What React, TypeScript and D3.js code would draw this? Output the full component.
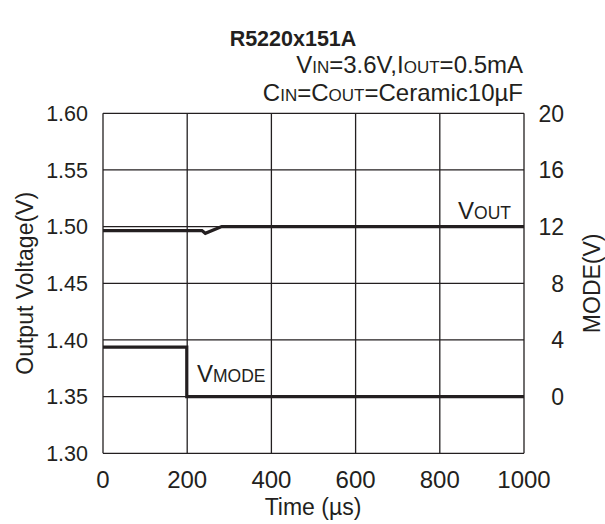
import * as d3 from "d3"

// time axis (µs)
const X_TICKS = [0, 200, 400, 600, 800, 1000]
const Y_TICKS = [1.3, 1.35, 1.4, 1.45, 1.5, 1.55, 1.6]
const MODE_TICKS = [0, 4, 8, 12, 16, 20]

// Vout trace
const VOUT_T = [0, 235, 243, 282, 1000]
const VOUT_V = [1.4965, 1.4965, 1.4941, 1.5, 1.5]

// Vmode trace
const MODE_T = [0, 199, 199, 1000]
const MODE_V = [3.5, 3.5, 0, 0]

const W = 605
const H = 524
const M = { left: 103, right: 524, top: 113.3, bottom: 453.3 }
const FONT = "'Liberation Sans', Arial, sans-serif"
const INK = "#231f20"

export default function App() {
  const x = d3.scaleLinear().domain([0, 1000]).range([M.left, M.right])
  const y = d3.scaleLinear().domain([1.3, 1.6]).range([M.bottom, M.top])
  const yMode = d3.scaleLinear().domain([-4, 20]).range([M.bottom, M.top])

  const voutLine = d3.line<number>()
    .x((_, i) => x(VOUT_T[i]))
    .y((v) => y(v))
  const modeLine = d3.line<number>()
    .x((_, i) => x(MODE_T[i]))
    .y((v) => yMode(v))

  const midY = (M.top + M.bottom) / 2

  return (
    <svg width={W} height={H} style={{ position: "absolute", left: 0, top: 0, background: "#fff" }}
      fontFamily={FONT} fill={INK}>
      <text x={293} y={46} textAnchor="middle" fontWeight="bold" fontSize={21.5}>R5220x151A</text>
      <text x={523} y={73} textAnchor="end" fontSize={24}>
        V<tspan fontSize={17}>IN</tspan>=3.6V,I<tspan fontSize={17}>OUT</tspan>=0.5mA
      </text>
      <text x={523} y={101} textAnchor="end" fontSize={24}>
        C<tspan fontSize={17}>IN</tspan>=C<tspan fontSize={17}>OUT</tspan>=Ceramic10µF
      </text>

      {/* grid */}
      <g stroke={INK} strokeWidth={1.3} fill="none">
        {X_TICKS.map((t) => (
          <line key={"gx" + t} x1={x(t)} x2={x(t)} y1={M.top} y2={M.bottom} />
        ))}
        {Y_TICKS.map((t) => (
          <line key={"gy" + t} x1={M.left} x2={M.right} y1={y(t)} y2={y(t)} />
        ))}
      </g>

      {/* traces */}
      <path d={voutLine(VOUT_V) ?? ""} fill="none" stroke={INK} strokeWidth={3.2} />
      <path d={modeLine(MODE_V) ?? ""} fill="none" stroke={INK} strokeWidth={3.2} />

      <text x={458} y={218.5} fontSize={24}>V<tspan fontSize={17.5}>OUT</tspan></text>
      <text x={197} y={381.5} fontSize={24}>V<tspan fontSize={17.5}>MODE</tspan></text>

      {/* left axis */}
      {Y_TICKS.map((t) => (
        <text key={"ly" + t} x={88} y={y(t)} dy="0.36em" textAnchor="end" fontSize={21.5}>
          {d3.format(".2f")(t)}
        </text>
      ))}
      {/* right axis */}
      {MODE_TICKS.map((t) => (
        <text key={"ry" + t} x={564} y={yMode(t)} dy="0.36em" textAnchor="end" fontSize={23}>
          {t}
        </text>
      ))}
      {/* bottom axis */}
      {X_TICKS.map((t) => (
        <text key={"bx" + t} x={x(t)} y={488} textAnchor="middle" fontSize={24}>
          {t}
        </text>
      ))}

      <text x={313} y={515} textAnchor="middle" fontSize={23}>Time (µs)</text>
      <text transform={`translate(33,${midY}) rotate(-90)`} textAnchor="middle" fontSize={23}>
        Output Voltage(V)
      </text>
      <text transform={`translate(600,${midY}) rotate(-90)`} textAnchor="middle" fontSize={23}>
        MODE(V)
      </text>
    </svg>
  )
}
